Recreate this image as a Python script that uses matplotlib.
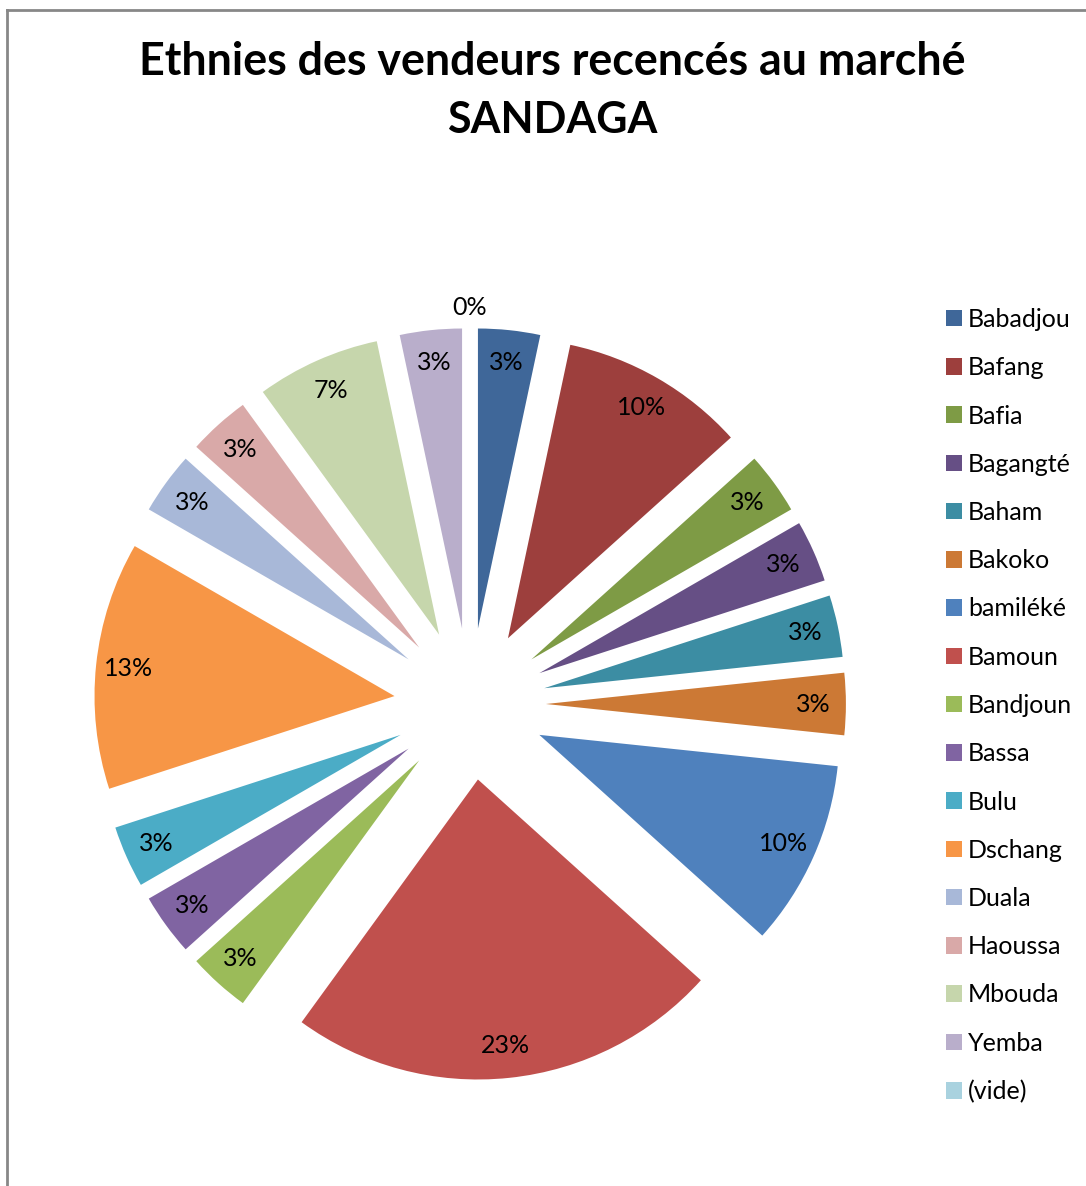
import matplotlib
matplotlib.use("Agg")
import matplotlib.pyplot as plt
from matplotlib.lines import Line2D
import numpy as np

# Vendor counts per ethnic group
categories = ["Babadjou", "Bafang", "Bafia", "Bagangté", "Baham", "Bakoko",
              "bamiléké", "Bamoun", "Bandjoun", "Bassa", "Bulu", "Dschang",
              "Duala", "Haoussa", "Mbouda", "Yemba", "(vide)"]
counts = [1, 3, 1, 1, 1, 1, 3, 7, 1, 1, 1, 4, 1, 1, 2, 1, 0]
colors = ["#3F6799", "#9D3F3D", "#7E9B45", "#664F85", "#3C8DA3", "#CC7935",
          "#4F81BD", "#C0504D", "#9BBB59", "#8064A2", "#4BACC6", "#F79646",
          "#A8B8D8", "#D9A9A8", "#C6D6AC", "#B9AECB", "#A9D2DF"]

W, H = 1086, 1186
fig = plt.figure(figsize=(W / 100, H / 100), dpi=100)
fig.patch.set_facecolor("white")

# Chart frame (left and top edges visible)
fig.add_artist(Line2D([7 / W, 7 / W], [0, 1 - 10 / H], color="#878787", lw=2,
                      transform=fig.transFigure))
fig.add_artist(Line2D([7 / W, 1], [1 - 10 / H, 1 - 10 / H], color="#878787", lw=2,
                      transform=fig.transFigure))

ax = fig.add_axes([0, 0, 1, 1])
cx, cy, R = 470, 704, 300
wedges, texts, autotexts = ax.pie(
    counts, colors=colors, startangle=90, counterclock=False,
    explode=[0.253] * len(counts), autopct="%.0f%%", pctdistance=0.89,
    wedgeprops=dict(linewidth=0),
    textprops=dict(fontsize=18, family="Lato", color="#000000"))

# Zero-sized slice: put its label just outside the ring
for w, t, c in zip(wedges, autotexts, counts):
    if c == 0:
        th = np.deg2rad((w.theta1 + w.theta2) / 2)
        x0, y0 = w.center
        t.set_position((x0 + 1.067 * np.cos(th), y0 + 1.067 * np.sin(th)))

ax.set_xlim(-cx / R, (W - cx) / R)
ax.set_ylim(-(H - cy) / R, cy / R)
ax.axis("off")

fig.text(552 / W, 1 - 62 / H, "Ethnies des vendeurs recencés au marché",
         ha="center", va="center", fontsize=32.2, fontweight="bold", family="Lato")
fig.text(552 / W, 1 - 120 / H, "SANDAGA",
         ha="center", va="center", fontsize=31, fontweight="bold", family="Lato")

leg = fig.legend(wedges, categories, loc="upper left",
                 bbox_to_anchor=(946 / W, 1 - 308 / H), frameon=False,
                 prop=dict(family="Lato", size=18),
                 handlelength=0.64, handleheight=0.64, handletextpad=0.24,
                 labelspacing=1.01, borderaxespad=0, borderpad=0)

fig.savefig("out.png", dpi=100, facecolor="white")
